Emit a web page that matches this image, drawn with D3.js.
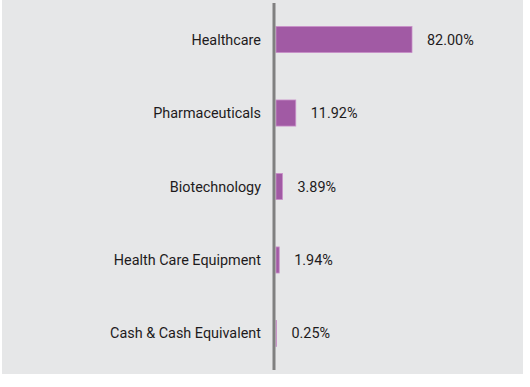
<!DOCTYPE html>
<html>
<head>
<meta charset="utf-8">
<script src="https://cdn.jsdelivr.net/npm/d3@7"></script>
<style>
  body { margin: 0; background: #fff; }
  text { font-family: Roboto, "Open Sans", sans-serif; }
</style>
</head>
<body>
<svg id="chart" width="530" height="387"></svg>
<script>
// chart data
const sectors = ["Healthcare", "Pharmaceuticals", "Biotechnology", "Health Care Equipment", "Cash & Cash Equivalent"];
const weights = [82.00, 11.92, 3.89, 1.94, 0.25];
const labels = ["82.00%", "11.92%", "3.89%", "1.94%", "0.25%"];

const rows = sectors.map((s, i) => ({ name: s, value: weights[i], label: labels[i] }));

const svg = d3.select("#chart");

// panel background
svg.append("rect")
    .attr("x", 2).attr("y", 0)
    .attr("width", 521).attr("height", 374)
    .attr("fill", "#e6e7e8");

const x0 = 276;
const x = d3.scaleLinear().domain([0, 82]).range([x0, 412]);
const y = d3.scaleBand().domain(sectors).range([3, 370]).paddingInner(0.645).paddingOuter(0.32);

// bars
svg.append("g")
    .selectAll("rect")
    .data(rows)
    .join("rect")
    .attr("x", x0)
    .attr("y", d => y(d.name))
    .attr("width", d => x(d.value) - x0)
    .attr("height", y.bandwidth())
    .attr("fill", "#a15aa4")
    .attr("stroke", "#c990c9")
    .attr("stroke-width", 0.8);

// category labels
svg.append("g")
    .selectAll("text")
    .data(rows)
    .join("text")
    .attr("x", 261)
    .attr("y", d => y(d.name) + y.bandwidth() / 2)
    .attr("dy", "0.35em")
    .attr("text-anchor", "end")
    .attr("font-size", 14.4)
    .attr("fill", "#1e1b1c")
    .text(d => d.name);

// value labels
svg.append("g")
    .selectAll("text")
    .data(rows)
    .join("text")
    .attr("x", d => x(d.value) + 15)
    .attr("y", d => y(d.name) + y.bandwidth() / 2)
    .attr("dy", "0.35em")
    .attr("font-size", 14.4)
    .attr("fill", "#1e1b1c")
    .text(d => d.label);

// vertical axis line
svg.append("line")
    .attr("x1", 274).attr("x2", 274)
    .attr("y1", 3).attr("y2", 370)
    .attr("stroke", "#808080")
    .attr("stroke-width", 3);
</script>
</body>
</html>
